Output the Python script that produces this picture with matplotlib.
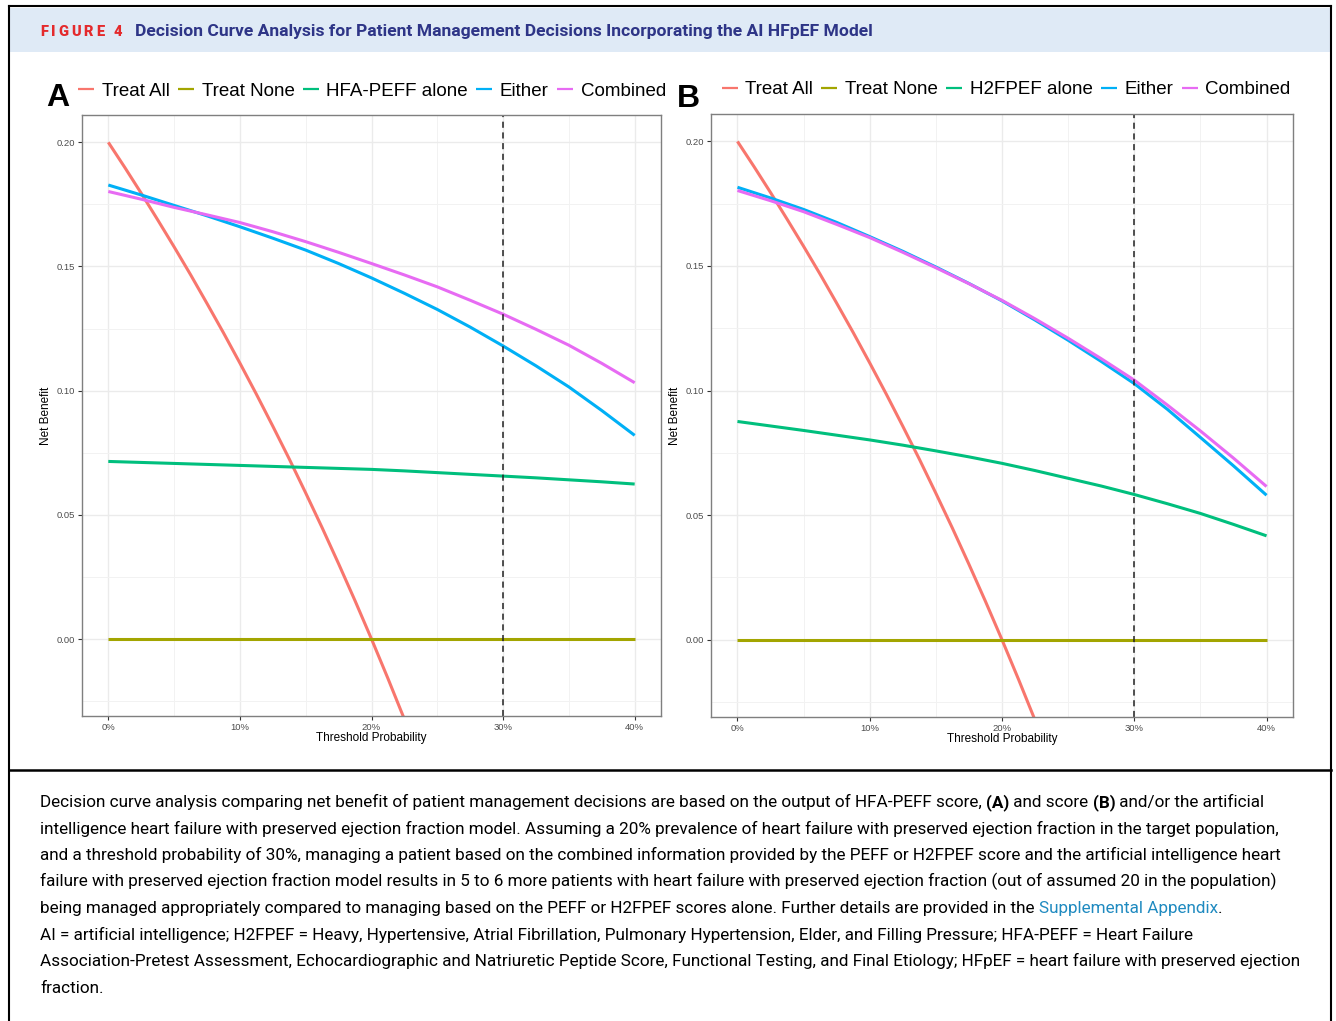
import matplotlib
matplotlib.use('Agg')
import matplotlib.pyplot as plt
from matplotlib.lines import Line2D
from matplotlib.patches import Rectangle
from matplotlib.ticker import FuncFormatter, MultipleLocator

W, H = 1336, 1021

# --- data ---
thresholds = [0.000, 0.025, 0.050, 0.075, 0.100, 0.125, 0.150, 0.175, 0.200,
              0.225, 0.250, 0.275, 0.300, 0.325, 0.350, 0.375, 0.400]
treat_all_x = [0.0000, 0.0125, 0.0250, 0.0375, 0.0500, 0.0625, 0.0750, 0.0875, 0.1000,
               0.1125, 0.1250, 0.1375, 0.1500, 0.1625, 0.1750, 0.1875, 0.2000,
               0.2125, 0.2250, 0.2375, 0.2500]
treat_all_y = [0.2000, 0.1899, 0.1795, 0.1688, 0.1579, 0.1467, 0.1351, 0.1233, 0.1111,
               0.0986, 0.0857, 0.0725, 0.0588, 0.0448, 0.0303, 0.0154, 0.0000,
               -0.0159, -0.0323, -0.0492, -0.0667]
treat_none = [0.0] * 17

a_score = [0.0715, 0.0711, 0.0707, 0.0703, 0.0699, 0.0695, 0.0691, 0.0687, 0.0683,
           0.0677, 0.0670, 0.0663, 0.0656, 0.0649, 0.0641, 0.0633, 0.0624]
a_either = [0.1828, 0.1788, 0.1746, 0.1704, 0.1660, 0.1614, 0.1566, 0.1512, 0.1454,
            0.1392, 0.1327, 0.1256, 0.1180, 0.1100, 0.1015, 0.0920, 0.0820]
a_combined = [0.1802, 0.1771, 0.1738, 0.1708, 0.1677, 0.1640, 0.1600, 0.1557, 0.1512,
              0.1466, 0.1418, 0.1364, 0.1308, 0.1247, 0.1183, 0.1110, 0.1032]

b_score = [0.0876, 0.0858, 0.0840, 0.0821, 0.0802, 0.0781, 0.0758, 0.0734, 0.0708,
           0.0679, 0.0648, 0.0617, 0.0583, 0.0546, 0.0507, 0.0463, 0.0417]
b_either = [0.1816, 0.1773, 0.1727, 0.1675, 0.1618, 0.1559, 0.1496, 0.1430, 0.1360,
            0.1283, 0.1202, 0.1117, 0.1028, 0.0925, 0.0812, 0.0698, 0.0580]
b_combined = [0.1803, 0.1762, 0.1718, 0.1667, 0.1614, 0.1555, 0.1493, 0.1429, 0.1362,
              0.1288, 0.1210, 0.1128, 0.1042, 0.0942, 0.0838, 0.0729, 0.0615]

cutoff = 0.30
labels_a = ["Treat All", "Treat None", "HFA-PEFF alone", "Either", "Combined"]
labels_b = ["Treat All", "Treat None", "H2FPEF alone", "Either", "Combined"]
colors = ["#F8766D", "#A3A500", "#00BF7D", "#00B0F6", "#E76BF3"]

fig = plt.figure(figsize=(W / 100, H / 100), dpi=100)
fig.patch.set_facecolor("white")
renderer = fig.canvas.get_renderer()


def fx(px):
    return px / W


def fy(py):
    return 1 - py / H


def text_width(t):
    # advance width incl. trailing spaces
    bar = fig.text(0, 0, "|", fontproperties=t.get_fontproperties())
    probe = fig.text(0, 0, t.get_text() + "|", fontproperties=t.get_fontproperties())
    w = probe.get_window_extent(renderer).width - bar.get_window_extent(renderer).width
    bar.remove()
    probe.remove()
    return w


def fit_size(s, width_px, family, weight="normal"):
    t = fig.text(0, 0, s, fontsize=10, family=family, fontweight=weight)
    w = t.get_window_extent(renderer).width
    t.remove()
    return 10 * width_px / w


def draw_runs(x_px, y_px, runs, size, family):
    x = x_px
    for s, weight, color in runs:
        t = fig.text(fx(x), fy(y_px), s, fontsize=size, family=family,
                     fontweight=weight, color=color, va="baseline", ha="left")
        x += text_width(t)


# --- frame and header ---
fig.add_artist(Rectangle((fx(9), fy(52)), fx(1331) - fx(9), fy(8) - fy(52),
                         transform=fig.transFigure, facecolor="#dfeaf6", edgecolor="none"))
fig.add_artist(Line2D([fx(9), fx(9)], [fy(6), 0], transform=fig.transFigure, color="black", lw=1.5))
fig.add_artist(Line2D([fx(1331), fx(1331)], [fy(6), 0], transform=fig.transFigure, color="black", lw=1.5))
fig.add_artist(Line2D([fx(9), fx(1331)], [fy(6), fy(6)], transform=fig.transFigure, color="black", lw=1.5))
fig.add_artist(Line2D([fx(9), fx(1331)], [fy(770), fy(770)], transform=fig.transFigure, color="black", lw=1.8))

head_font = "Roboto"
title = "Decision Curve Analysis for Patient Management Decisions Incorporating the AI HFpEF Model"

# "FIGURE 4" is letter-spaced: draw it char by char
fig_label = "FIGURE 4"
fig_size = 10.5
widths = []
for ch in fig_label:
    tmp = fig.text(0, 0, ch, fontsize=fig_size, family=head_font, fontweight="black")
    widths.append(text_width(tmp))
    tmp.remove()
gap = (82 - sum(widths)) / (len(fig_label) - 1)
x = 40
for ch, w in zip(fig_label, widths):
    fig.text(fx(x), fy(36), ch, fontsize=fig_size, family=head_font, fontweight="black",
             color="#e42a2c", va="baseline")
    x += w + gap

fig.text(fx(135), fy(36), title, fontsize=fit_size(title, 738, head_font, "bold"),
         family=head_font, fontweight="bold", color="#2e3587", va="baseline")

# --- panels ---
plot_font = "Liberation Sans"
panels = [
    ([82, 115, 661, 716], labels_a, a_score, a_either, a_combined, "A", (58, 98), 0.501),
    ([711, 114, 1293, 717], labels_b, b_score, b_either, b_combined, "B", (688, 99), 0.507),
]

for box, labels, score, either, combined, letter, lpos, leg_x in panels:
    l, t, r, b = box
    ax = fig.add_axes([fx(l), fy(b), fx(r) - fx(l), fy(t) - fy(b)])
    ax.plot(treat_all_x, treat_all_y, color=colors[0], lw=2.2, label=labels[0], solid_capstyle="butt")
    ax.plot(thresholds, treat_none, color=colors[1], lw=2.2, label=labels[1], solid_capstyle="butt")
    ax.plot(thresholds, score, color=colors[2], lw=2.2, label=labels[2], solid_capstyle="butt")
    ax.plot(thresholds, either, color=colors[3], lw=2.2, label=labels[3], solid_capstyle="butt")
    ax.plot(thresholds, combined, color=colors[4], lw=2.2, label=labels[4], solid_capstyle="butt")
    ax.axvline(cutoff, color="#222222", lw=1.1, ls=(0, (4, 3)))

    ax.set_xlim(-0.02, 0.42)
    ax.set_ylim(-0.031, 0.211)
    ax.xaxis.set_major_locator(MultipleLocator(0.1))
    ax.xaxis.set_minor_locator(MultipleLocator(0.05))
    ax.yaxis.set_major_locator(MultipleLocator(0.05))
    ax.yaxis.set_minor_locator(MultipleLocator(0.025))
    ax.xaxis.set_major_formatter(FuncFormatter(lambda v, p: f"{v * 100:.0f}%"))
    ax.yaxis.set_major_formatter(FuncFormatter(lambda v, p: f"{v:.2f}"))
    ax.grid(which="major", color="#ebebeb", lw=1.0)
    ax.grid(which="minor", color="#f2f2f2", lw=0.7)
    ax.set_axisbelow(True)
    ax.tick_params(which="major", length=3, width=0.8, color="#333333",
                   labelsize=6.8, labelcolor="#4d4d4d", pad=2)
    ax.tick_params(which="minor", length=0)
    for lab in ax.get_xticklabels() + ax.get_yticklabels():
        lab.set_family(plot_font)
    for sp in ax.spines.values():
        sp.set_color("#7f7f7f")
        sp.set_linewidth(1.0)
    ax.set_xlabel("Threshold Probability", fontsize=8.5, family=plot_font, labelpad=0)
    ax.set_ylabel("Net Benefit", fontsize=8.5, family=plot_font, labelpad=3)

    leg = ax.legend(loc="center", bbox_to_anchor=(leg_x, 1.040), ncol=5, frameon=False,
                    handlelength=0.85, handletextpad=0.4, columnspacing=0.45,
                    prop={"family": plot_font, "size": 13.5}, borderaxespad=0, borderpad=0)
    for h in leg.get_lines():
        h.set_linewidth(1.6)

    fig.text(fx(lpos[0]), fy(lpos[1]), letter, fontsize=23, fontweight="bold",
             family=plot_font, ha="center", va="center")

# --- caption ---
cap_font = "Roboto"
link = "#1f8ac0"
lines = [
    [("Decision curve analysis comparing net benefit of patient management decisions are based on the output of HFA-PEFF score, ", "normal", "black"),
     ("(A)", "bold", "black"), (" and score ", "normal", "black"), ("(B)", "bold", "black"),
     (" and/or the artificial", "normal", "black")],
    [("intelligence heart failure with preserved ejection fraction model. Assuming a 20% prevalence of heart failure with preserved ejection fraction in the target population,", "normal", "black")],
    [("and a threshold probability of 30%, managing a patient based on the combined information provided by the PEFF or H2FPEF score and the artificial intelligence heart", "normal", "black")],
    [("failure with preserved ejection fraction model results in 5 to 6 more patients with heart failure with preserved ejection fraction (out of assumed 20 in the population)", "normal", "black")],
    [("being managed appropriately compared to managing based on the PEFF or H2FPEF scores alone. Further details are provided in the ", "normal", "black"),
     ("Supplemental Appendix", "normal", link), (".", "normal", "black")],
    [("AI = artificial intelligence; H2FPEF = Heavy, Hypertensive, Atrial Fibrillation, Pulmonary Hypertension, Elder, and Filling Pressure; HFA-PEFF = Heart Failure", "normal", "black")],
    [("Association-Pretest Assessment, Echocardiographic and Natriuretic Peptide Score, Functional Testing, and Final Etiology; HFpEF = heart failure with preserved ejection", "normal", "black")],
    [("fraction.", "normal", "black")],
]
cap_size = fit_size(lines[2][0][0], 1250, cap_font)
for i, runs in enumerate(lines):
    draw_runs(40, 807 + i * 26.5, runs, cap_size, cap_font)

fig.savefig("out.png", dpi=100, facecolor="white")
